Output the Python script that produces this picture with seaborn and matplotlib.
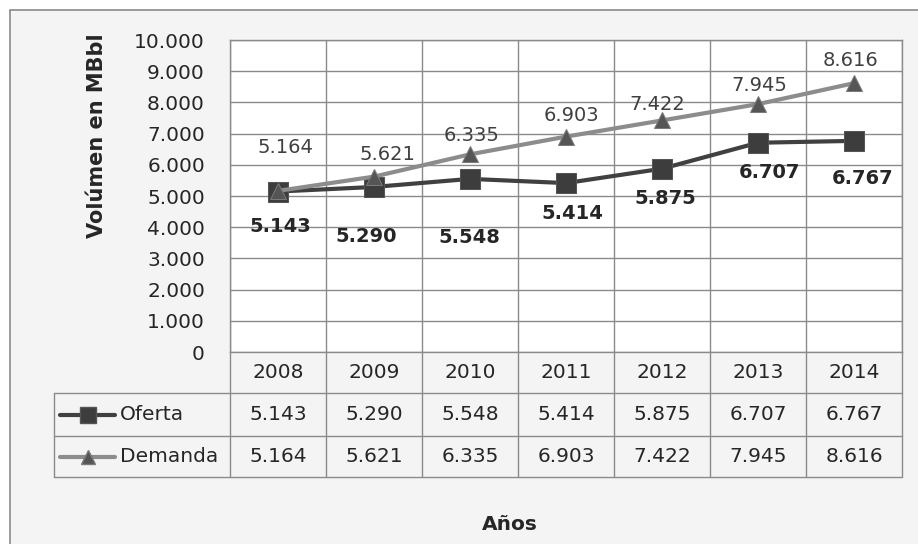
import matplotlib
matplotlib.use("Agg")
import matplotlib.pyplot as plt
from matplotlib.patches import Rectangle
from matplotlib.ticker import FuncFormatter, MultipleLocator
import seaborn as sns
import pandas as pd

# ================================
# Data
# ================================
years = ["2008", "2009", "2010", "2011", "2012", "2013", "2014"]
oferta = [5143, 5290, 5548, 5414, 5875, 6707, 6767]
demanda = [5164, 5621, 6335, 6903, 7422, 7945, 8616]
series_names = ["Oferta", "Demanda"]

# label offsets (pixels) for the data labels
dem_dx = [7, 13, 2, 5, -5, 1, -4]
dem_dy = [43, 22, 19, 21, 16, 19, 23]
ofe_dx = [2, -8, -1, 6, 3, 11, 9]
ofe_dy = [-35, -50, -59, -30, -30, -30, -38]


def fmt(v):
    return f"{v:,.0f}".replace(",", ".")


df = pd.DataFrame({
    "pos": list(range(len(years))) * 2,
    "valor": oferta + demanda,
    "serie": ["Oferta"] * len(years) + ["Demanda"] * len(years),
})

sns.set_style("white")
plt.rcParams["font.family"] = ["DejaVu Sans"]

W, H = 918, 544
fig = plt.figure(figsize=(W / 100, H / 100), dpi=100)
fig.patch.set_facecolor("white")

# chart area background + border (cropped at right/bottom)
fig.patches.append(Rectangle((10 / W, -0.1), 1.1, 1 - 10 / H + 0.1, transform=fig.transFigure,
                             facecolor="#f4f4f4", edgecolor="#8a8a8a", lw=1.2, zorder=-5))

ax = fig.add_axes([230 / W, 1 - 352 / H, 672 / W, 312 / H])
ax.set_facecolor("white")

grid_c = "#8a8a8a"
txt_c = "#262626"
line_colors = {"Oferta": "#404040", "Demanda": "#8c8c8c"}

sns.lineplot(data=df[df.serie == "Oferta"], x="pos", y="valor", ax=ax, color=line_colors["Oferta"],
             lw=3, marker="s", markersize=14, markerfacecolor="#3d3d3d", markeredgecolor="#555555",
             legend=False, zorder=4)
sns.lineplot(data=df[df.serie == "Demanda"], x="pos", y="valor", ax=ax, color=line_colors["Demanda"],
             lw=3, marker="^", markersize=12, markerfacecolor="#555555", markeredgecolor="#7a7a7a",
             legend=False, zorder=5)

ax.set_xlim(-0.5, len(years) - 0.5)
ax.set_ylim(0, 10000)
ax.yaxis.set_major_locator(MultipleLocator(1000))
ax.yaxis.set_major_formatter(FuncFormatter(lambda v, p: fmt(v)))
ax.set_xticks([i - 0.5 for i in range(len(years) + 1)])
ax.set_xticklabels([])
ax.grid(True, color=grid_c, lw=1)
ax.tick_params(axis="y", length=0, pad=18, labelsize=14.5, labelcolor=txt_c)
ax.tick_params(axis="x", length=0)
ax.set_xlabel("")
ax.set_ylabel("")
for s in ax.spines.values():
    s.set_color(grid_c)
    s.set_linewidth(1)

# data labels
px = 0.72
for i, v in enumerate(demanda):
    ax.annotate(fmt(v), (i, v), xytext=(dem_dx[i] * px, dem_dy[i] * px), textcoords="offset points",
                ha="center", va="center", fontsize=14, color="#404040")
for i, v in enumerate(oferta):
    ax.annotate(fmt(v), (i, v), xytext=(ofe_dx[i] * px, ofe_dy[i] * px), textcoords="offset points",
                ha="center", va="center", fontsize=14, fontweight="bold", color=txt_c)

# ================================
# Data table under the plot (drawn by hand)
# ================================
n = len(years)
lab_w = 176 / 672
row_b = [-41 / 312, -84 / 312, -125 / 312]   # bottom edges of header / oferta / demanda rows
row_t = [0] + row_b[:-1]
tk = dict(transform=ax.transAxes, clip_on=False, color=grid_c, lw=1)

for i in range(n + 1):
    ax.plot([i / n, i / n], [0, row_b[-1]], **tk)
ax.plot([-lab_w, -lab_w], [row_b[0], row_b[-1]], **tk)
ax.plot([-lab_w, 1], [row_b[0], row_b[0]], **tk)
for yb in row_b[1:]:
    ax.plot([-lab_w, 1], [yb, yb], **tk)

rows = [years, [fmt(v) for v in oferta], [fmt(v) for v in demanda]]
for r, vals in enumerate(rows):
    yc = (row_t[r] + row_b[r]) / 2
    for i, t in enumerate(vals):
        ax.text((i + 0.5) / n, yc, t, transform=ax.transAxes, ha="center", va="center",
                fontsize=14.5, color=txt_c)

# row labels with legend keys
kx0, kx1, kxm, ktx = (60 - 230) / 672, (115 - 230) / 672, (88 - 230) / 672, (120 - 230) / 672
key_styles = [dict(marker="s", ms=11, markerfacecolor="#3d3d3d", markeredgecolor="#555555"),
              dict(marker="^", ms=10, markerfacecolor="#555555", markeredgecolor="#7a7a7a")]
for r, name in enumerate(series_names):
    yc = (row_t[r + 1] + row_b[r + 1]) / 2
    ax.plot([kx0, kx1], [yc, yc], transform=ax.transAxes, clip_on=False, color=line_colors[name], lw=3)
    ax.plot([kxm], [yc], transform=ax.transAxes, clip_on=False, **key_styles[r])
    ax.text(ktx, yc, name, transform=ax.transAxes, ha="left", va="center", fontsize=14.5, color=txt_c)

fig.text(97 / W, 1 - 136 / H, "Volúmen en MBbl", rotation=90, ha="center", va="center",
         fontsize=15, fontweight="bold", color=txt_c)
fig.text(510 / W, 1 - 525 / H, "Años", ha="center", va="center", fontsize=14.5, fontweight="bold", color=txt_c)

fig.savefig("out.png", dpi=100, facecolor=fig.get_facecolor())
